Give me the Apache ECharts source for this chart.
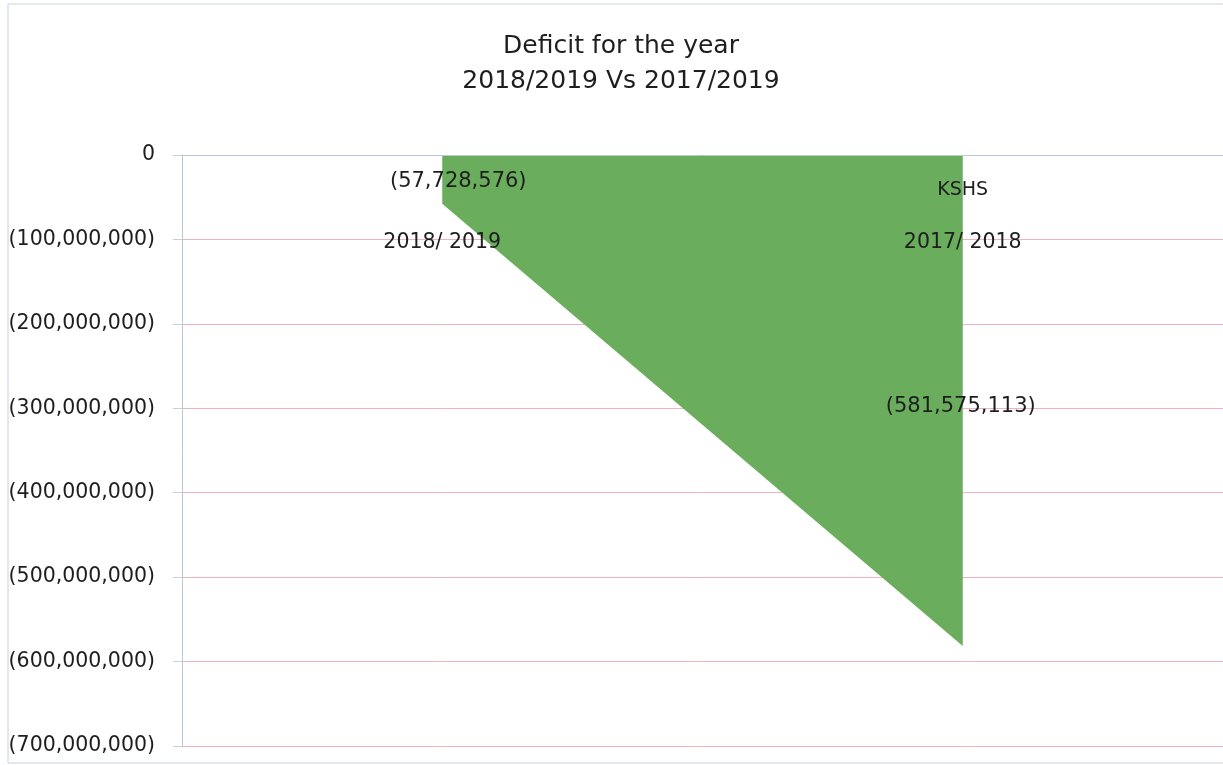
<!DOCTYPE html>
<html>
<head>
<meta charset="utf-8">
<title>Deficit for the year</title>
<script src="https://cdn.jsdelivr.net/npm/echarts@6/dist/echarts.min.js"></script>
<style>
  html, body { margin: 0; padding: 0; background: #ffffff; }
  #chart { width: 1223px; height: 765px; }
</style>
</head>
<body>
<div id="chart"></div>
<script>
// Financial years shown on the category axis
const years = ['2018/ 2019', '2017/ 2018'];
// Deficit per year (KSHS), negative values
const deficits = [-57728576, -581575113];
// Value axis range and step
const yMin = -700000000;
const yMax = 0;
const yStep = 100000000;
// Currency note drawn beside the second year
const currencyNote = 'KSHS';

const FONT = '"DejaVu Sans", sans-serif';
const TEXT = '#1e1e1e';
const GREEN = '#69ad5d';

// Pixel offsets of the value labels relative to their points
const labelOffsets = [[16, -22], [-2, -239]];

function paren(v) {
  if (v === 0) return '0';
  const s = Math.abs(v).toLocaleString('en-US');
  return v < 0 ? '(' + s + ')' : s;
}

const seriesData = deficits.map((v, i) => ({
  value: v,
  label: { offset: labelOffsets[i] }
}));

const chart = echarts.init(document.getElementById('chart'), null, { renderer: 'canvas' });

chart.setOption({
  backgroundColor: '#ffffff',
  animation: false,
  title: {
    text: 'Deficit for the year\n2018/2019 Vs 2017/2019',
    left: 616,
    top: 24,
    textAlign: 'center',
    textStyle: {
      fontFamily: FONT,
      fontSize: 25,
      fontWeight: 'normal',
      color: TEXT,
      lineHeight: 35
    }
  },
  graphic: [{
    type: 'rect',
    silent: true,
    z: -1,
    shape: { x: 8, y: 4, width: 1240, height: 759 },
    style: { fill: 'none', stroke: '#c9d2de', lineWidth: 1 }
  }],
  grid: {
    left: 182, right: 0, top: 155, bottom: 19,
    containLabel: false,
    outerBoundsMode: 'none'
  },
  xAxis: {
    type: 'category',
    data: years,
    position: 'top',
    boundaryGap: true,
    axisLine: { show: true, onZero: false, lineStyle: { color: '#b9c6d9', width: 1 } },
    axisTick: { show: false },
    splitLine: { show: false },
    axisLabel: {
      inside: true,
      margin: 77,
      fontFamily: FONT,
      fontSize: 20.5,
      color: TEXT
    },
    z: 5
  },
  yAxis: {
    type: 'value',
    min: yMin,
    max: yMax,
    interval: yStep,
    axisLine: { show: true, lineStyle: { color: '#b9c6d9', width: 1 } },
    axisTick: { show: true, length: 9, lineStyle: { color: '#c8cfda' } },
    splitLine: { show: true, lineStyle: { color: '#f0b3bd', width: 1 } },
    axisLabel: {
      margin: 27,
      padding: [3, 0, 0, 0],
      fontFamily: FONT,
      fontSize: 20.5,
      color: TEXT,
      formatter: paren
    }
  },
  series: [{
    type: 'line',
    data: seriesData,
    symbol: 'circle',
    symbolSize: 1,
    itemStyle: { color: 'rgba(0,0,0,0)' },
    lineStyle: { width: 0, color: GREEN },
    areaStyle: { color: GREEN, opacity: 1 },
    label: {
      show: true,
      position: 'inside',
      fontFamily: FONT,
      fontSize: 21,
      color: TEXT,
      formatter: p => paren(p.value)
    },
    markPoint: {
      symbol: 'circle',
      symbolSize: 0,
      silent: true,
      label: {
        show: true,
        position: 'inside',
        fontFamily: FONT,
        fontSize: 19,
        color: TEXT,
        formatter: () => currencyNote
      },
      data: [{ coord: [1, -41500000] }]
    },
    z: 2
  }]
});
</script>
</body>
</html>
